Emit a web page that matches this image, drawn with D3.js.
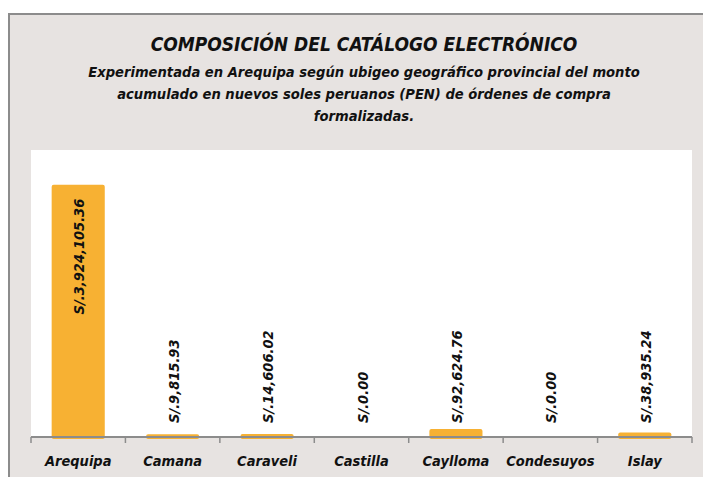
<!DOCTYPE html>
<html>
<head>
<meta charset="utf-8">
<script src="https://cdn.jsdelivr.net/npm/d3@7"></script>
<style>
  html, body { margin: 0; padding: 0; background: #ffffff; }
  svg text { font-family: "DejaVu Sans Condensed", "DejaVu Sans", sans-serif; font-weight: bold; font-style: italic; fill: #111111; }
</style>
</head>
<body>
<script>
'use strict';

// data
var provincias = ['Arequipa', 'Camana', 'Caraveli', 'Castilla', 'Caylloma', 'Condesuyos', 'Islay'];
var montos = [3924105.36, 9815.93, 14606.02, 0, 92624.76, 0, 38935.24];
var etiquetas = ['S/.3,924,105.36', 'S/.9,815.93', 'S/.14,606.02', 'S/.0.00', 'S/.92,624.76', 'S/.0.00', 'S/.38,935.24'];
var titulo = 'COMPOSICIÓN DEL CATÁLOGO ELECTRÓNICO';
var subtitulo = [
    'Experimentada en Arequipa según ubigeo geográfico provincial del monto',
    'acumulado en nuevos soles peruanos (PEN) de órdenes de compra',
    'formalizadas.'
];

var width = 703;
var height = 477;
var plot = {left: 31, right: 692, top: 150, bottom: 437};

var data = provincias.map(function(p, i) {
    return {name: p, value: montos[i], label: etiquetas[i]};
});

var svg = d3.select('body').append('svg')
    .attr('width', width)
    .attr('height', height);

// outer frame
svg.append('rect')
    .attr('x', 8).attr('y', 13)
    .attr('width', width).attr('height', height)
    .attr('fill', '#e7e3e1');
svg.append('path')
    .attr('d', 'M9,' + height + 'V14H' + width)
    .attr('fill', 'none')
    .attr('stroke', '#8c8c8c')
    .attr('stroke-width', 2);

// plot area
svg.append('rect')
    .attr('x', plot.left).attr('y', plot.top)
    .attr('width', plot.right - plot.left)
    .attr('height', plot.bottom - plot.top)
    .attr('fill', '#ffffff');

// titles
svg.append('text')
    .attr('x', 364).attr('y', 51)
    .attr('text-anchor', 'middle')
    .style('font-size', '19px')
    .text(titulo);

svg.selectAll('.sub')
    .data(subtitulo)
    .enter().append('text')
    .attr('class', 'sub')
    .attr('x', 364)
    .attr('y', function(d, i) { return 77 + i * 22; })
    .attr('text-anchor', 'middle')
    .style('font-size', '14.6px')
    .text(function(d) { return d; });

// scales
var x = d3.scaleBand()
    .domain(provincias)
    .range([plot.left, plot.right])
    .paddingInner(0.48)
    .paddingOuter(0.24);

var y = d3.scaleLinear()
    .domain([0, 4500000])
    .range([plot.bottom, plot.top]);

// bars
svg.selectAll('.bar')
    .data(data.filter(function(d) { return d.value > 0; }))
    .enter().append('rect')
    .attr('class', 'bar')
    .attr('x', function(d) { return x(d.name); })
    .attr('y', function(d) { return y(d.value); })
    .attr('width', x.bandwidth())
    .attr('height', function(d) { return plot.bottom - y(d.value); })
    .attr('fill', '#f7b133')
    .attr('stroke', '#f7b133')
    .attr('stroke-width', 4)
    .attr('stroke-linejoin', 'round');

// x axis
var axis = svg.append('g')
    .attr('transform', 'translate(0,' + plot.bottom + ')');

axis.append('line')
    .attr('x1', plot.left).attr('x2', plot.right)
    .attr('stroke', '#8c8c8c')
    .attr('stroke-width', 2);

axis.selectAll('.tick')
    .data(d3.range(provincias.length + 1))
    .enter().append('line')
    .attr('class', 'tick')
    .attr('x1', function(i) { return plot.left + i * x.step(); })
    .attr('x2', function(i) { return plot.left + i * x.step(); })
    .attr('y1', 0).attr('y2', 6)
    .attr('stroke', '#8c8c8c')
    .attr('stroke-width', 1.5);

axis.selectAll('.cat')
    .data(provincias)
    .enter().append('text')
    .attr('class', 'cat')
    .attr('x', function(d) { return x(d) + x.bandwidth() / 2; })
    .attr('y', 29)
    .attr('text-anchor', 'middle')
    .style('font-size', '14.5px')
    .text(function(d) { return d; });

// value labels: inside the tall bar, above the axis for the short ones
function inside(d) { return plot.bottom - y(d.value) > 150; }

svg.selectAll('.val')
    .data(data)
    .enter().append('text')
    .attr('class', 'val')
    .attr('transform', function(d) {
        var cx = x(d.name) + x.bandwidth() / 2 + 1;
        var ty = inside(d) ? y(d.value) + 12 : plot.bottom - 14;
        return 'translate(' + cx + ',' + ty + ') rotate(-90)';
    })
    .attr('text-anchor', function(d) { return inside(d) ? 'end' : 'start'; })
    .attr('dy', '0.35em')
    .style('font-size', '14.5px')
    .text(function(d) { return d.label; });
</script>
</body>
</html>
